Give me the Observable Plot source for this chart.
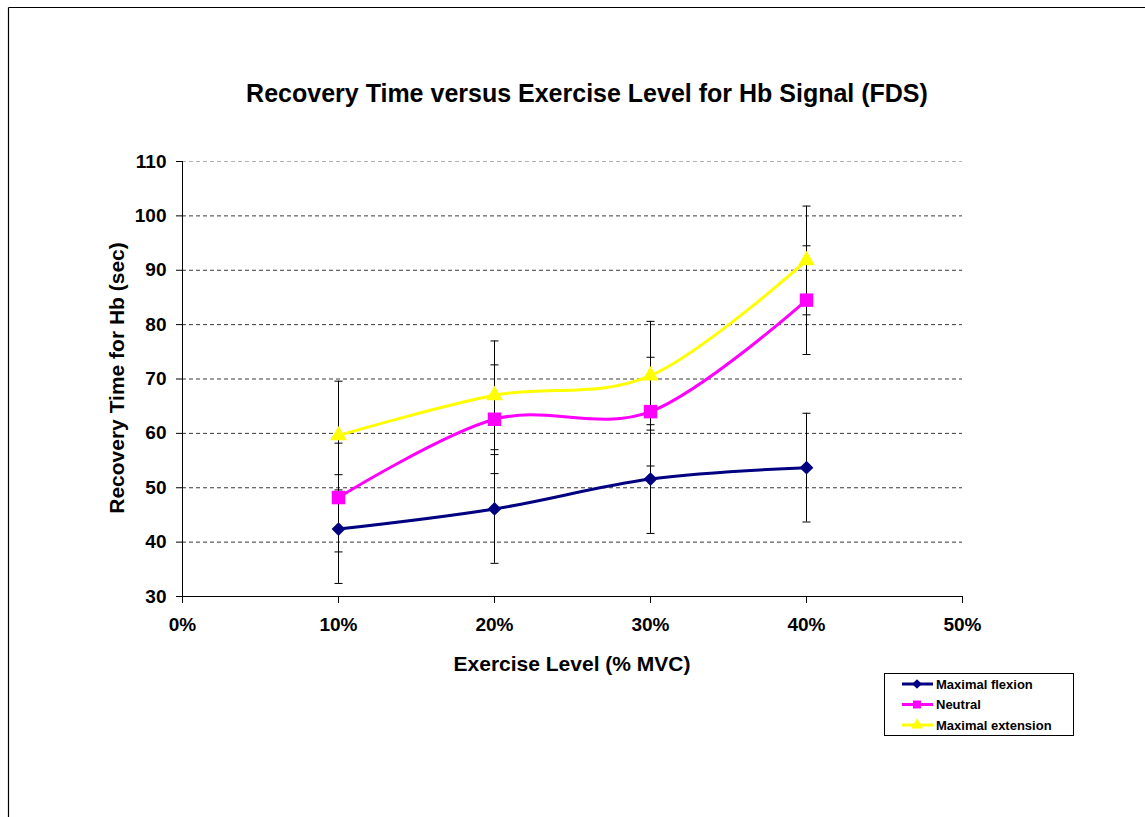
<!DOCTYPE html>
<html>
<head>
<meta charset="utf-8">
<script src="https://cdn.jsdelivr.net/npm/d3@7"></script>
<script src="https://cdn.jsdelivr.net/npm/@observablehq/plot@0.6"></script>
<style>
  html, body { margin: 0; padding: 0; background: white; }
  #chart svg { display: block; }
</style>
</head>
<body>
<div id="chart"></div>
<script>
// ---- data ----
const levels = [0.1, 0.2, 0.3, 0.4];
const flexion = [42.4, 46.1, 51.6, 53.7];
const neutral = [48.2, 62.6, 64.0, 84.5];
const extension = [59.6, 67.0, 70.6, 91.8];
const flexionErr = [10, 10, 10, 10];
const neutralErr = [10, 10, 10, 10];
const extensionErr = [10, 10, 10, 10];
const seriesNames = ["Maximal flexion", "Neutral", "Maximal extension"];
const seriesColors = ["#000080", "#FF00FF", "#FFFF00"];
const seriesSymbols = ["diamond2", "square", "triangle"];
const xTicks = [0, 0.1, 0.2, 0.3, 0.4, 0.5];
const yTicks = [30, 40, 50, 60, 70, 80, 90, 100, 110];
const gridValues = [40, 50, 60, 70, 80, 90, 100, 110];
const titleText = "Recovery Time versus Exercise Level for Hb Signal (FDS)";
const xLabel = "Exercise Level (% MVC)";
const yLabel = "Recovery Time for Hb (sec)";

const values = [flexion, neutral, extension];
const errs = [flexionErr, neutralErr, extensionErr];
const rows = [];
seriesNames.forEach((s, i) => levels.forEach((x, j) => rows.push({
  series: s, x, y: values[i][j], lo: values[i][j] - errs[i][j], hi: values[i][j] + errs[i][j]
})));

const capSymbol = {
  draw(ctx, size) { const w = Math.sqrt(size); ctx.moveTo(-w / 2, 0); ctx.lineTo(w / 2, 0); }
};
const symbolR = {"diamond2": 6.2, "square": 7.6, "triangle": 6.2};

const W = 1145, H = 817;
const marks = [
  Plot.ruleY(gridValues, {stroke: d => d === 110 ? "#b0b0b0" : "#3a3a3a", strokeDasharray: "4,3", strokeWidth: 1}),
  Plot.ruleY([30], {stroke: "black"}),
  Plot.ruleX([0], {stroke: "black"}),
  Plot.axisX({ticks: xTicks, tickFormat: d3.format(".0%"), tickSize: 7, tickPadding: 14, label: null}),
  Plot.axisY({ticks: yTicks, tickSize: 6, tickPadding: 10, label: null}),
  // error bars
  Plot.ruleX(rows, {x: "x", y1: "lo", y2: "hi", stroke: "black", strokeWidth: 1}),
  Plot.dot(rows, {x: "x", y: "lo", symbol: capSymbol, r: 8 / Math.sqrt(Math.PI), stroke: "black", strokeWidth: 1, fill: "none"}),
  Plot.dot(rows, {x: "x", y: "hi", symbol: capSymbol, r: 8 / Math.sqrt(Math.PI), stroke: "black", strokeWidth: 1, fill: "none"})
];
seriesNames.forEach((s, i) => {
  const d = rows.filter(r => r.series === s);
  marks.push(Plot.line(d, {x: "x", y: "y", stroke: seriesColors[i], strokeWidth: 3, curve: "cardinal", tension: 0}));
});
seriesNames.forEach((s, i) => {
  const d = rows.filter(r => r.series === s);
  marks.push(Plot.dot(d, {x: "x", y: "y", symbol: seriesSymbols[i], r: symbolR[seriesSymbols[i]], fill: seriesColors[i], stroke: "none"}));
});

const chart = Plot.plot({
  width: W, height: H,
  marginLeft: 182, marginRight: 183, marginTop: 161, marginBottom: 221,
  style: {fontFamily: "'Liberation Sans', Arial, Helvetica, sans-serif", fontSize: "19px", fontWeight: "bold", background: "white", color: "black", overflow: "visible"},
  x: {domain: [0, 0.5]},
  y: {domain: [30, 110]},
  marks
});

const svg = d3.select(chart);
// outer frame (top and left edges visible)
svg.append("line").attr("x1", 8.5).attr("x2", W).attr("y1", 7.5).attr("y2", 7.5).attr("stroke", "black").attr("stroke-width", 1.2);
svg.append("line").attr("x1", 8.5).attr("x2", 8.5).attr("y1", 7.5).attr("y2", H).attr("stroke", "black").attr("stroke-width", 1.2);

svg.append("text").text(titleText).attr("x", 587).attr("y", 102).attr("text-anchor", "middle")
  .attr("font-size", 25).attr("font-weight", "bold");
svg.append("text").text(xLabel).attr("x", 572).attr("y", 671).attr("text-anchor", "middle")
  .attr("font-size", 21).attr("font-weight", "bold");
svg.append("text").text(yLabel).attr("transform", "translate(124,378) rotate(-90)").attr("text-anchor", "middle")
  .attr("font-size", 21).attr("font-weight", "bold");

// legend
const lg = svg.append("g").attr("font-size", 13).attr("font-weight", "bold").attr("text-anchor", "start");
lg.append("rect").attr("x", 884.5).attr("y", 673.5).attr("width", 189).attr("height", 62)
  .attr("fill", "white").attr("stroke", "black").attr("stroke-width", 1);
const symGen = {diamond2: d3.symbolDiamond2, square: d3.symbolSquare, triangle: d3.symbolTriangle};
const legSize = {diamond2: 60, square: 64, triangle: 60};
seriesNames.forEach((s, i) => {
  const y = 684 + i * 20.5;
  lg.append("line").attr("x1", 902).attr("x2", 933).attr("y1", y).attr("y2", y)
    .attr("stroke", seriesColors[i]).attr("stroke-width", 3);
  lg.append("path").attr("d", d3.symbol(symGen[seriesSymbols[i]], legSize[seriesSymbols[i]])())
    .attr("transform", `translate(917,${y})`).attr("fill", seriesColors[i]);
  lg.append("text").text(s).attr("x", 936).attr("y", y + 4.5).attr("text-anchor", "start");
});

document.getElementById("chart").appendChild(chart);
</script>
</body>
</html>
